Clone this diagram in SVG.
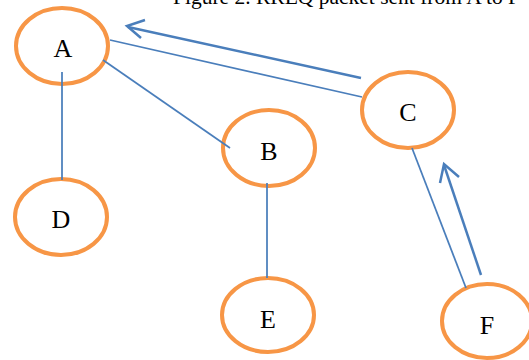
<svg xmlns="http://www.w3.org/2000/svg" width="529" height="360" viewBox="0 0 529 360">
  <style>
    .node ellipse { fill: #ffffff; stroke: #F79646; stroke-width: 4; }
    .node text { font-family: "Liberation Serif", "Times New Roman", serif; font-size: 26px; fill: #000000; text-anchor: middle; }
    .link { stroke: #4A7EBB; stroke-width: 1.75; fill: none; }
    .msg { stroke: #4A7EBB; stroke-width: 2.5; fill: none; stroke-linecap: butt; stroke-linejoin: miter; }
    .title { font-family: "Liberation Serif", "Times New Roman", serif; font-size: 21.5px; fill: #000000; }
  </style>

  <rect width="529" height="360" fill="#ffffff"/>

  <!-- caption runs off the top edge of the canvas -->
  <text class="title" x="173" y="4">Figure 2. RREQ packet sent from A to F</text>

  <g id="node-A" class="node">
    <ellipse cx="62" cy="46" rx="46" ry="38"/>
    <text x="63" y="57">A</text>
  </g>
  <g id="node-B" class="node">
    <ellipse cx="269" cy="148" rx="46" ry="38"/>
    <text x="269" y="160">B</text>
  </g>
  <g id="node-C" class="node">
    <ellipse cx="408" cy="110" rx="46" ry="38"/>
    <text x="408" y="121">C</text>
  </g>
  <g id="node-D" class="node">
    <ellipse cx="61" cy="217" rx="46" ry="38"/>
    <text x="61" y="228">D</text>
  </g>
  <g id="node-E" class="node">
    <ellipse cx="268" cy="315" rx="46" ry="37"/>
    <text x="268" y="328">E</text>
  </g>
  <g id="node-F" class="node">
    <ellipse cx="487" cy="321" rx="45" ry="37"/>
    <text x="487" y="334">F</text>
  </g>

  <!-- links are drawn over the node outlines -->
  <g id="connectors">
    <line class="link" x1="62" y1="72" x2="62" y2="180"/>
    <line class="link" x1="103" y1="60" x2="230" y2="148"/>
    <line class="link" x1="110" y1="40" x2="362" y2="97"/>
    <line class="link" x1="267" y1="183" x2="267" y2="278"/>
    <line class="link" x1="412" y1="148" x2="466" y2="288"/>
    <!-- RREQ hops -->
    <line class="msg" x1="361" y1="78" x2="128" y2="27"/>
    <polyline class="msg" points="145,20 127,26 141,38"/>
    <line class="msg" x1="481" y1="275" x2="444" y2="165"/>
    <polyline class="msg" points="440,183 444,164 459,177"/>
  </g>
</svg>
